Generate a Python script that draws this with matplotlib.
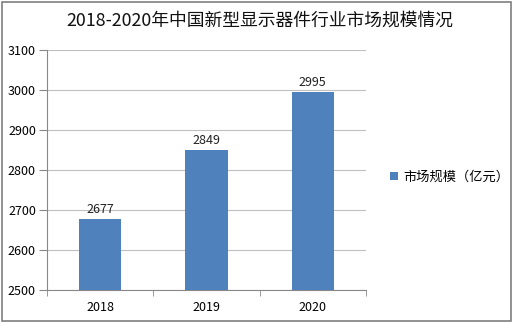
import matplotlib
matplotlib.use('Agg')
import matplotlib.pyplot as plt
from matplotlib.patches import Rectangle

plt.rcParams['font.family'] = ['Noto Sans CJK SC', 'DejaVu Sans']

years = ['2018', '2019', '2020']
market_size = [2677, 2849, 2995]
series_name = '市场规模（亿元）'
title = '2018-2020年中国新型显示器件行业市场规模情况'

BAR_COLOR = '#4F81BD'
GRID_COLOR = '#BFBFBF'

fig = plt.figure(figsize=(5.14, 3.23), dpi=100)
ax = fig.add_axes([47 / 514, 1 - 290 / 323, (366 - 47) / 514, (290 - 50) / 323])

x = range(len(years))
bars = ax.bar(x, market_size, width=0.4, color=BAR_COLOR, label=series_name, zorder=3)
for xi, v in zip(x, market_size):
    ax.text(xi, v + 8, str(v), ha='center', va='bottom', fontsize=9, color='#222222')

ax.set_xlim(-0.5, len(years) - 0.5)
ax.set_ylim(2500, 3100)
ax.set_yticks(range(2500, 3101, 100))
ax.set_xticks(list(x))
ax.set_xticklabels(years)
ax.set_xticks([i - 0.5 for i in range(len(years) + 1)], minor=True)
ax.tick_params(axis='x', which='major', length=0, labelsize=9, pad=8)
ax.tick_params(axis='x', which='minor', length=4, color='#888888')
ax.tick_params(axis='y', length=6, color='#888888', labelsize=9, pad=2)
ax.grid(axis='y', color=GRID_COLOR, linewidth=0.8, zorder=0)

for side in ['top', 'right']:
    ax.spines[side].set_visible(False)
for side in ['left', 'bottom']:
    ax.spines[side].set_color('#888888')
    ax.spines[side].set_linewidth(0.8)

fig.text(0.505, 0.935, title, ha='center', va='center', fontsize=12.8, color='#111111')

fig.legend(handles=[bars], labels=[series_name], loc='center left',
           bbox_to_anchor=(378 / 514, 1 - 177 / 323), frameon=False,
           fontsize=9.5, handlelength=0.6, handleheight=0.6, handletextpad=0.4)

fig.patches.append(Rectangle((0.003, 0.006), 0.992, 0.988, transform=fig.transFigure,
                             fill=False, edgecolor='#7F7F7F', linewidth=1.2))

fig.savefig('out.png', dpi=100)
